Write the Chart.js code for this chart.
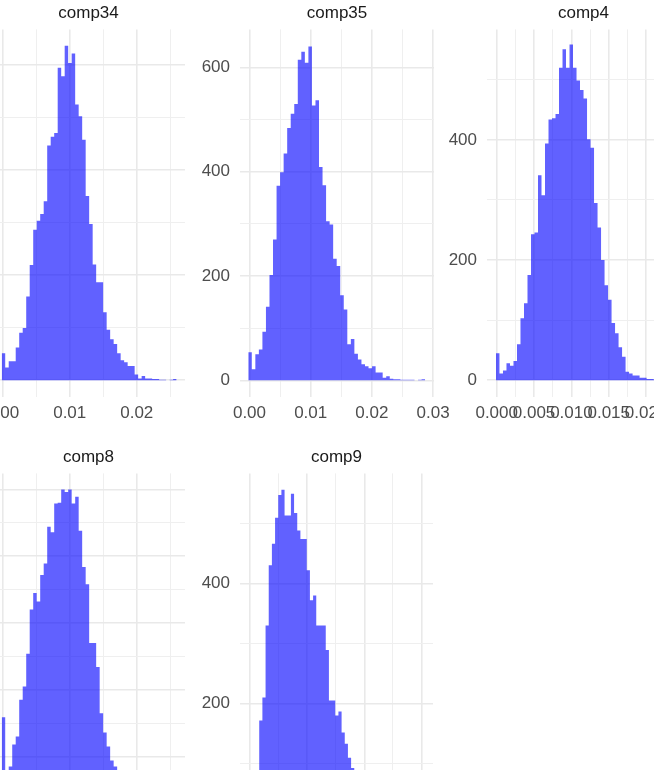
<!DOCTYPE html>
<html>
<head>
<meta charset="utf-8">
<script src="https://cdn.jsdelivr.net/npm/chart.js@4.4.1/dist/chart.umd.min.js"></script>
<style>
  html, body { margin: 0; padding: 0; background: #fff; }
  body { width: 654px; height: 770px; overflow: hidden; position: relative; }
  canvas { position: absolute; }
</style>
</head>
<body>
<canvas id="c34"></canvas>
<canvas id="c35"></canvas>
<canvas id="c4"></canvas>
<canvas id="c8"></canvas>
<canvas id="c9"></canvas>
<script>
// histogram counts (50 bins per component)
const bin34Start = -0.00015, bin34Width = 0.000522;
const counts34 = [51, 24, 36, 36, 62, 90, 99, 159, 219, 286, 303, 316, 340, 446, 463, 470, 594, 578, 636, 603,
  621, 524, 502, 457, 350, 297, 220, 186, 186, 129, 96, 78, 69, 51, 38, 34, 27, 27, 11, 3,
  8, 3, 3, 2, 2, 1, 1, 0, 1, 2];

const bin35Start = -0.0002, bin35Width = 0.000578;
const counts35 = [54, 21, 50, 59, 93, 141, 202, 270, 373, 399, 435, 484, 511, 530, 615, 630, 609, 640, 527, 537,
  409, 374, 305, 299, 233, 219, 163, 136, 69, 79, 51, 40, 31, 27, 23, 27, 15, 15, 5, 8,
  3, 2, 2, 1, 1, 1, 1, 0, 1, 2];

const bin4Start = -0.0001, bin4Width = 0.000469;
const counts4 = [45, 11, 16, 28, 24, 32, 60, 103, 128, 175, 243, 246, 341, 308, 394, 434, 436, 443, 520, 551,
  520, 559, 520, 499, 483, 469, 401, 387, 295, 254, 200, 158, 134, 95, 78, 55, 39, 14, 11, 8,
  8, 4, 4, 2, 2, 1, 1, 0, 1, 1];

const bin8Start = -0.00015, bin8Width = 0.000522;
const counts8 = [159, 55, 85, 118, 130, 185, 205, 254, 320, 345, 332, 372, 389, 444, 436, 479, 480, 500, 496, 500,
  479, 489, 438, 384, 358, 270, 270, 234, 165, 136, 115, 94, 85, 70, 55, 42, 33, 25, 18, 13,
  9, 7, 5, 3, 2, 2, 1, 1, 0, 1];

const bin9Start = -0.00005, bin9Width = 0.000554;
const counts9 = [40, 55, 88, 172, 210, 330, 430, 466, 509, 547, 556, 513, 513, 549, 517, 488, 474, 474, 422, 372,
  380, 330, 330, 330, 289, 205, 205, 180, 187, 152, 133, 110, 93, 80, 68, 57, 47, 39, 31, 25,
  19, 15, 11, 8, 6, 4, 3, 2, 1, 1];

// axis breaks and labels ('' = minor grid line)
const xBreaks34 = [0, 0.005, 0.01, 0.015, 0.02, 0.025];
const xLabels34 = ['0.00', '', '0.01', '', '0.02', ''];
const yBreaks34 = [0, 100, 200, 300, 400, 500, 600];
const yLabels34 = ['0', '', '200', '', '400', '', '600'];

const xBreaks35 = [0, 0.005, 0.01, 0.015, 0.02, 0.025, 0.03];
const xLabels35 = ['0.00', '', '0.01', '', '0.02', '', '0.03'];
const yBreaks35 = [0, 100, 200, 300, 400, 500, 600];
const yLabels35 = ['0', '', '200', '', '400', '', '600'];

const xBreaks4 = [0, 0.0025, 0.005, 0.0075, 0.01, 0.0125, 0.015, 0.0175, 0.02, 0.0225];
const xLabels4 = ['0.000', '', '0.005', '', '0.010', '', '0.015', '', '0.020', ''];
const yBreaks4 = [0, 100, 200, 300, 400, 500];
const yLabels4 = ['0', '', '200', '', '400', ''];

const xBreaks8 = [0, 0.005, 0.01, 0.015, 0.02, 0.025];
const xLabels8 = ['0.00', '', '0.01', '', '0.02', ''];
const yBreaks8 = [0, 50, 100, 150, 200, 250, 300, 350, 400, 450, 500];
const yLabels8 = ['0', '', '100', '', '200', '', '300', '', '400', '', '500'];

const xBreaks9 = [0, 0.005, 0.01, 0.015, 0.02, 0.025, 0.03];
const xLabels9 = ['0.00', '', '0.01', '', '0.02', '', '0.03'];
const yBreaks9 = [0, 100, 200, 300, 400, 500];
const yLabels9 = ['0', '', '200', '', '400', ''];

Chart.defaults.font.family = '"Liberation Sans", Arial, sans-serif';

// bin edges -> points for a stepped, filled line
function histPoints(start, width, counts) {
  const pts = counts.map((c, i) => ({ x: start + i * width, y: c }));
  pts.push({ x: start + counts.length * width, y: 0 });
  return pts;
}

function axis(dir, range, breaks, labels) {
  return {
    type: 'linear',
    min: range[0],
    max: range[1],
    afterBuildTicks: s => { s.ticks = breaks.map(v => ({ value: v })); },
    afterFit: s => { if (dir === 'x') s.height = 40; else s.width = 60; },
    border: { display: false },
    grid: {
      drawTicks: false,
      color: c => labels[c.index] ? '#e9e9e9' : '#efefef',
      lineWidth: c => labels[c.index] ? 1.6 : 1
    },
    ticks: {
      autoSkip: false,
      maxRotation: 0,
      minRotation: 0,
      padding: dir === 'x' ? 6 : 10,
      color: '#4d4d4d',
      font: { size: 17 },
      callback: (v, i) => labels[i]
    }
  };
}

// box = where the plot panel sits on the page
function panel(id, title, points, xRange, yRange, xb, xl, yb, yl, box) {
  const canvas = document.getElementById(id);
  canvas.width = box.width + 110;
  canvas.height = box.height + 81;
  const chart = new Chart(canvas, {
    type: 'line',
    data: {
      datasets: [{
        data: points,
        stepped: true,
        fill: 'origin',
        backgroundColor: 'rgba(0, 0, 255, 0.62)',
        borderColor: 'rgba(0, 0, 0, 0)',
        borderWidth: 0,
        pointRadius: 0
      }]
    },
    options: {
      responsive: false,
      maintainAspectRatio: false,
      animation: false,
      events: [],
      layout: { padding: { left: 10, right: 40, top: 0, bottom: 10 } },
      plugins: {
        legend: { display: false },
        tooltip: { enabled: false },
        title: {
          display: true,
          fullSize: false, // centre over the panel, like a facet strip
          text: title,
          color: '#1a1a1a',
          font: { size: 17, weight: 'normal' },
          padding: { top: 4, bottom: 6 }
        }
      },
      scales: {
        x: axis('x', xRange, xb, xl),
        y: axis('y', yRange, yb, yl)
      }
    }
  });
  const a = chart.chartArea;
  canvas.style.left = (box.left - a.left) + 'px';
  canvas.style.top = (box.top - a.top) + 'px';
}

panel('c34', 'comp34', histPoints(bin34Start, bin34Width, counts34),
  [-0.0016, 0.0272], [-32, 667], xBreaks34, xLabels34, yBreaks34, yLabels34,
  { left: -8, top: 29, width: 193, height: 367 });

panel('c35', 'comp35', histPoints(bin35Start, bin35Width, counts35),
  [-0.00155, 0.03015], [-32, 673], xBreaks35, xLabels35, yBreaks35, yLabels35,
  { left: 240, top: 29, width: 194, height: 367 });

panel('c4', 'comp4', histPoints(bin4Start, bin4Width, counts4),
  [-0.0013, 0.02454], [-28, 584], xBreaks4, xLabels4, yBreaks4, yLabels4,
  { left: 487, top: 29, width: 193, height: 367 });

panel('c8', 'comp8', histPoints(bin8Start, bin8Width, counts8),
  [-0.0016, 0.0272], [-25, 524], xBreaks8, xLabels8, yBreaks8, yLabels8,
  { left: -8, top: 473, width: 193, height: 366 });

panel('c9', 'comp9', histPoints(bin9Start, bin9Width, counts9),
  [-0.00175, 0.032], [-27, 583], xBreaks9, xLabels9, yBreaks9, yLabels9,
  { left: 240, top: 473, width: 193, height: 366 });
</script>
</body>
</html>
